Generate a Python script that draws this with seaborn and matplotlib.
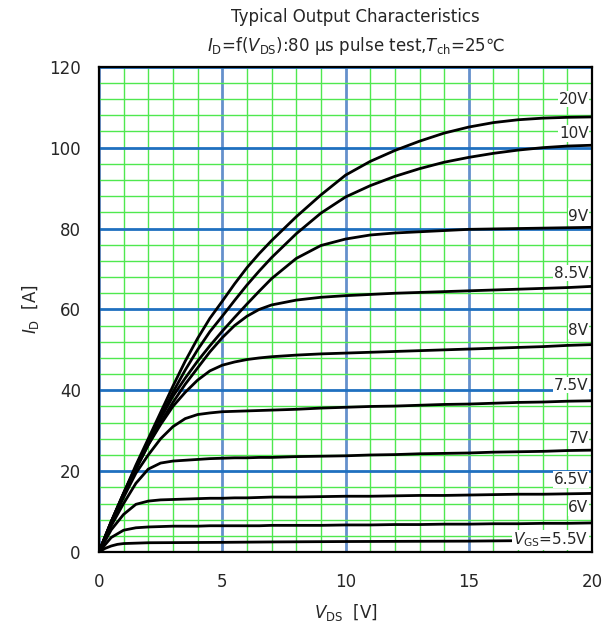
import numpy as np
import pandas as pd
import matplotlib
matplotlib.use("Agg")
import matplotlib.pyplot as plt
import seaborn as sns
from matplotlib.ticker import MultipleLocator

# drain-source voltage grid [V]
vds = [0, 0.5, 1, 1.5, 2, 2.5, 3, 3.5, 4, 4.5, 5, 5.5, 6, 6.5, 7,
       8, 9, 10, 11, 12, 13, 14, 15, 16, 17, 18, 19, 20]

# drain current [A] per gate voltage
id_20v = [0, 7.5, 14.5, 21.5, 28, 34.5, 41, 47.2, 52.8, 57.8, 62, 66.3, 70.3, 73.8, 77,
          82.9, 88.3, 93.2, 96.6, 99.3, 101.6, 103.6, 105.1, 106.2, 106.9, 107.3, 107.5, 107.6]
id_10v = [0, 7.5, 14.5, 21, 27.5, 33.5, 39.5, 45, 50, 54.5, 58.3, 62.2, 66, 69.5, 72.8,
          78.7, 83.8, 87.8, 90.6, 92.9, 94.8, 96.4, 97.6, 98.6, 99.4, 100, 100.4, 100.6]
id_9v = [0, 7.5, 14.5, 21, 27, 33, 38.5, 43, 47.2, 51, 54.6, 58, 61.3, 64.5, 67.6,
         72.6, 75.8, 77.4, 78.4, 78.9, 79.2, 79.5, 79.8, 79.9, 80, 80.1, 80.2, 80.3]
id_8v5 = [0, 7.5, 14, 20.5, 26.5, 32, 37, 41.5, 45.5, 49.5, 53, 56, 58.3, 60, 61.1,
          62.3, 63, 63.4, 63.7, 64, 64.2, 64.4, 64.6, 64.8, 65, 65.2, 65.4, 65.7]
id_8v = [0, 7, 14, 20.5, 26.5, 31.5, 36, 39.5, 42.5, 44.8, 46.2, 47, 47.6, 48, 48.3,
         48.7, 49, 49.2, 49.4, 49.6, 49.8, 50, 50.2, 50.4, 50.6, 50.8, 51.1, 51.3]
id_7v5 = [0, 7, 13.5, 19.5, 24, 28, 31, 33, 34, 34.4, 34.7, 34.8, 34.9, 35, 35.1,
          35.3, 35.6, 35.8, 36, 36.1, 36.3, 36.5, 36.6, 36.8, 37, 37.1, 37.3, 37.4]
id_7v = [0, 6.5, 12, 17, 20.5, 22, 22.5, 22.7, 22.9, 23.1, 23.2, 23.3, 23.3, 23.4, 23.4,
         23.6, 23.7, 23.8, 24, 24.1, 24.3, 24.4, 24.5, 24.7, 24.8, 24.9, 25.1, 25.2]
id_6v5 = [0, 5.5, 9.3, 11.8, 12.6, 12.9, 13, 13.1, 13.2, 13.3, 13.3, 13.4, 13.4, 13.5, 13.6,
          13.6, 13.7, 13.8, 13.8, 13.9, 14, 14, 14.1, 14.2, 14.3, 14.3, 14.4, 14.5]
id_6v = [0, 3.6, 5.4, 6.0, 6.2, 6.3, 6.4, 6.4, 6.4, 6.5, 6.5, 6.5, 6.5, 6.5, 6.6,
         6.6, 6.6, 6.7, 6.7, 6.8, 6.8, 6.9, 6.9, 7.0, 7.0, 7.1, 7.1, 7.2]

# the 5.5 V curve stops where its label starts
vds_5v5 = [0, 0.25, 0.5, 0.75, 1, 2, 5, 7, 10, 15, 16.8]
id_5v5 = [0, 0.9, 1.5, 1.9, 2.1, 2.3, 2.4, 2.5, 2.6, 2.7, 2.8]

vgs_labels = ["20V", "10V", "9V", "8.5V", "8V", "7.5V", "7V", "6.5V", "6V", r"$V_{\mathrm{GS}}$=5.5V"]
label_y = [112, 103.5, 83, 69, 54.7, 41.3, 28.2, 18, 11, 3]

curves = [id_20v, id_10v, id_9v, id_8v5, id_8v, id_7v5, id_7v, id_6v5, id_6v]
frames = []
for name, ys in zip(vgs_labels[:-1], curves):
    frames.append(pd.DataFrame({"Vds": vds, "Id": ys, "Vgs": name}))
frames.append(pd.DataFrame({"Vds": vds_5v5, "Id": id_5v5, "Vgs": "5.5V"}))
df = pd.concat(frames, ignore_index=True)

sns.set_style("white")
plt.rcParams["font.family"] = ["DejaVu Sans"]

fig = plt.figure(figsize=(6.03, 6.36), dpi=100)
ax = fig.add_axes([0.164, 0.132, 0.818, 0.763])

sns.lineplot(data=df, x="Vds", y="Id", units="Vgs", estimator=None,
             color="black", linewidth=2, sort=False, ax=ax, zorder=5)

ax.set_xlim(0, 20)
ax.set_ylim(0, 120)
ax.xaxis.set_major_locator(MultipleLocator(5))
ax.xaxis.set_minor_locator(MultipleLocator(1))
ax.yaxis.set_major_locator(MultipleLocator(20))
ax.yaxis.set_minor_locator(MultipleLocator(4))
ax.grid(which="minor", color="#4fe84f", linewidth=1.0, zorder=1)
ax.xaxis.grid(which="major", color="#6590cc", linewidth=2, zorder=2)
ax.yaxis.grid(which="major", color="#1f70c0", linewidth=2, zorder=2)
ax.set_axisbelow(True)
ax.tick_params(which="both", length=0, labelsize=12)
ax.tick_params(axis="x", pad=15)
ax.tick_params(axis="y", pad=13)
for s in ax.spines.values():
    s.set_color("black")
    s.set_linewidth(1.6)

for txt, y in zip(vgs_labels, label_y):
    ax.text(19.85, y, txt, ha="right", va="center", fontsize=11, zorder=6,
            bbox=dict(facecolor="white", edgecolor="none", pad=0.5))

ax.set_xlabel(r"$V_{\mathrm{DS}}$  [V]", fontsize=12, labelpad=8)
ax.set_ylabel(r"$I_{\mathrm{D}}$  [A]", fontsize=12, labelpad=6)
fig.text(0.59, 1 - 17 / 636, "Typical Output Characteristics",
         ha="center", va="center", fontsize=12)
fig.text(0.59, 1 - 46 / 636,
         r"$I_{\mathrm{D}}$=f($V_{\mathrm{DS}}$):80 μs pulse test,$T_{\mathrm{ch}}$=25℃",
         ha="center", va="center", fontsize=12)

fig.savefig("out.png", dpi=100)
